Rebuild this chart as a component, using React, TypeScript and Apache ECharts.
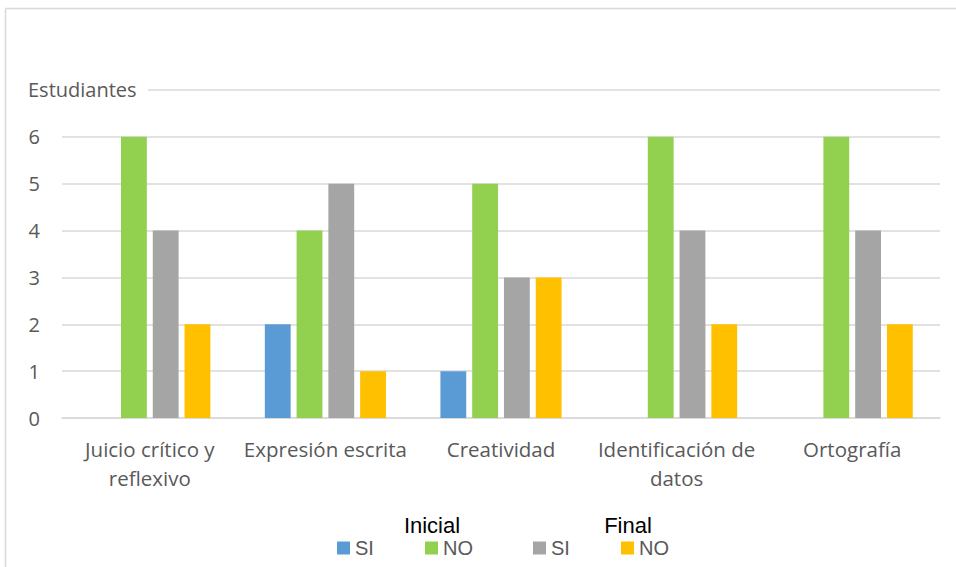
import React, { useEffect, useRef } from "react";
import * as echarts from "echarts";

// Skills evaluated
const categories = [
  "Juicio crítico y\nreflexivo",
  "Expresión escrita",
  "Creatividad",
  "Identificación de\ndatos",
  "Ortografía",
];

// Number of students per skill, initial and final assessment
const inicialSi = [0, 2, 1, 0, 0];
const inicialNo = [6, 4, 5, 6, 6];
const finalSi = [4, 5, 3, 4, 4];
const finalNo = [2, 1, 3, 2, 2];

const yTicks = [0, 1, 2, 3, 4, 5, 6];
const yTitle = "Estudiantes";

const COLORS = {
  blue: "#5B9BD5",
  green: "#92D050",
  gray: "#A5A5A5",
  yellow: "#FFC000",
};

const TEXT = "#595959";
const GRID = "#D9D9D9";
const FONT = "'Open Sans', 'Noto Sans', sans-serif";
const ARIAL = "'Liberation Sans', Arial, sans-serif";

export default function App() {
  const ref = useRef<HTMLDivElement>(null);

  useEffect(() => {
    if (!ref.current) return;
    const chart = echarts.init(ref.current, undefined, { renderer: "svg" });

    const legendLabel = (name: string) => name.split(" ")[1];
    const legendBase = {
      top: 533,
      itemWidth: 13,
      itemHeight: 13,
      itemGap: 0,
      icon: "rect",
      textStyle: { color: TEXT, fontSize: 20, fontFamily: ARIAL },
      formatter: legendLabel,
      selectedMode: false,
    };

    const bar = (name: string, data: number[], color: string) => ({
      type: "bar",
      name,
      data,
      barGap: "23%",
      barCategoryGap: "31%",
      itemStyle: { color },
      emphasis: { disabled: true },
    });

    chart.setOption({
      animation: false,
      grid: { left: 62, right: 16, top: 90, bottom: 149, containLabel: false },
      xAxis: {
        type: "category",
        data: categories,
        axisLine: { lineStyle: { color: GRID, width: 1.5 } },
        axisTick: { show: false },
        axisLabel: {
          color: TEXT,
          fontSize: 20.5,
          fontFamily: FONT,
          lineHeight: 29,
          margin: 16,
          interval: 0,
        },
      },
      yAxis: {
        type: "value",
        min: 0,
        max: 7,
        interval: 1,
        axisLine: { show: false },
        axisTick: { show: false },
        splitLine: { lineStyle: { color: GRID, width: 1.5 } },
        axisLabel: {
          color: TEXT,
          fontSize: 20,
          fontFamily: FONT,
          margin: 22,
          formatter: (v: number) => (yTicks.includes(v) ? String(v) : ""),
        },
      },
      legend: [
        { ...legendBase, left: 332, data: ["Inicial SI"] },
        { ...legendBase, left: 420, data: ["Inicial NO"] },
        { ...legendBase, left: 528, data: ["Final SI"] },
        { ...legendBase, left: 616, data: ["Final NO"] },
      ],
      graphic: [
        {
          type: "line",
          z: 100,
          shape: { x1: 5.5, y1: 8.5, x2: 5.5, y2: 567 },
          style: { stroke: GRID, lineWidth: 1.5 },
        },
        {
          type: "line",
          z: 100,
          shape: { x1: 5.5, y1: 8.5, x2: 956, y2: 8.5 },
          style: { stroke: GRID, lineWidth: 1.5 },
        },
        {
          type: "rect",
          z: 100,
          shape: { x: 20, y: 76, width: 128, height: 26 },
          style: { fill: "#ffffff" },
        },
        {
          type: "text",
          z: 101,
          x: 28,
          y: 89,
          style: {
            text: yTitle,
            fill: TEXT,
            font: `20px ${FONT}`,
            textVerticalAlign: "middle",
          },
        },
        {
          type: "text",
          z: 101,
          x: 432,
          y: 525,
          style: {
            text: "Inicial",
            fill: "#000000",
            font: `22px ${ARIAL}`,
            textAlign: "center",
            textVerticalAlign: "middle",
          },
        },
        {
          type: "text",
          z: 101,
          x: 628,
          y: 525,
          style: {
            text: "Final",
            fill: "#000000",
            font: `22px ${ARIAL}`,
            textAlign: "center",
            textVerticalAlign: "middle",
          },
        },
      ],
      series: [
        bar("Inicial SI", inicialSi, COLORS.blue),
        bar("Inicial NO", inicialNo, COLORS.green),
        bar("Final SI", finalSi, COLORS.gray),
        bar("Final NO", finalNo, COLORS.yellow),
      ],
    });

    return () => chart.dispose();
  }, []);

  return (
    <div
      ref={ref}
      style={{ position: "fixed", left: 0, top: 0, width: 956, height: 567, background: "#ffffff" }}
    />
  );
}
